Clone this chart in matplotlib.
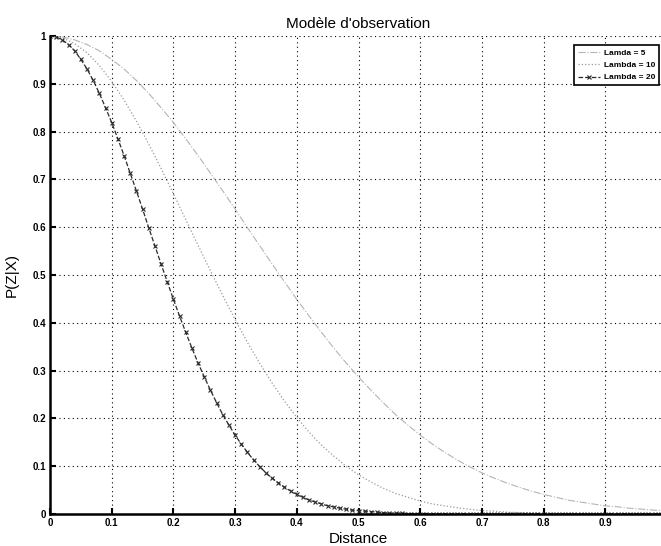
import numpy as np
import matplotlib
matplotlib.use('Agg')
import matplotlib.pyplot as plt

plt.rcParams['font.family'] = ['Liberation Sans', 'DejaVu Sans']

# distances (step 0.01 for lambda=20, step 0.02 for the other two)
dist_fine = [round(0.01 * i, 2) for i in range(101)]
dist_coarse = [round(0.02 * i, 2) for i in range(51)]

p_lambda5 = [1.000, 0.998, 0.992, 0.982, 0.969, 0.951, 0.931, 0.907, 0.880, 0.850,
             0.819, 0.785, 0.750, 0.713, 0.676, 0.638, 0.599, 0.561, 0.523, 0.486,
             0.449, 0.414, 0.380, 0.347, 0.316, 0.287, 0.259, 0.233, 0.208, 0.186,
             0.165, 0.146, 0.129, 0.113, 0.099, 0.086, 0.075, 0.065, 0.056, 0.048,
             0.041, 0.035, 0.029, 0.025, 0.021, 0.017, 0.015, 0.012, 0.010, 0.008,
             0.007]

p_lambda10 = [1.000, 0.996, 0.984, 0.965, 0.938, 0.905, 0.866, 0.822, 0.774, 0.723,
              0.670, 0.616, 0.562, 0.509, 0.457, 0.407, 0.359, 0.315, 0.274, 0.236,
              0.202, 0.171, 0.144, 0.121, 0.100, 0.082, 0.067, 0.054, 0.043, 0.035,
              0.027, 0.021, 0.017, 0.013, 0.010, 0.007, 0.006, 0.004, 0.003, 0.002,
              0.002, 0.001, 0.001, 0.001, 0.000, 0.000, 0.000, 0.000, 0.000, 0.000,
              0.000]

p_lambda20 = [1.000, 0.998, 0.992, 0.982, 0.969, 0.951, 0.931, 0.907, 0.880, 0.850,
              0.819, 0.785, 0.750, 0.713, 0.676, 0.638, 0.599, 0.561, 0.523, 0.486,
              0.449, 0.414, 0.380, 0.347, 0.316, 0.287, 0.259, 0.233, 0.208, 0.186,
              0.165, 0.146, 0.129, 0.113, 0.099, 0.086, 0.075, 0.065, 0.056, 0.048,
              0.041, 0.035, 0.029, 0.025, 0.021, 0.017, 0.015, 0.012, 0.010, 0.008,
              0.007, 0.006, 0.005, 0.004, 0.003, 0.002, 0.002, 0.002, 0.001, 0.001,
              0.001, 0.001, 0.000, 0.000, 0.000, 0.000, 0.000, 0.000, 0.000, 0.000,
              0.000, 0.000, 0.000, 0.000, 0.000, 0.000, 0.000, 0.000, 0.000, 0.000,
              0.000, 0.000, 0.000, 0.000, 0.000, 0.000, 0.000, 0.000, 0.000, 0.000,
              0.000, 0.000, 0.000, 0.000, 0.000, 0.000, 0.000, 0.000, 0.000, 0.000,
              0.000]

labels = ["Lamda = 5", "Lambda = 10", "Lambda = 20"]
xticks = [0, 0.1, 0.2, 0.3, 0.4, 0.5, 0.6, 0.7, 0.8, 0.9]
xtick_labels = ["0", "0.1", "0.2", "0.3", "0.4", "0.5", "0.6", "0.7", "0.8", "0.9"]
yticks = [0, 0.1, 0.2, 0.3, 0.4, 0.5, 0.6, 0.7, 0.8, 0.9, 1]
ytick_labels = ["0", "0.1", "0.2", "0.3", "0.4", "0.5", "0.6", "0.7", "0.8", "0.9", "1"]

W, H = 661, 546
fig = plt.figure(figsize=(W / 100, H / 100), dpi=100)
ax = fig.add_axes([50 / W, 1 - 514 / H, 617 / W, 478 / H])

ax.plot(dist_coarse, p_lambda5, linestyle='-.', color='#b4b4b4', linewidth=0.8, label=labels[0])
ax.plot(dist_coarse, p_lambda10, linestyle=':', color='#9a9a9a', linewidth=0.9, label=labels[1])
ax.plot(dist_fine, p_lambda20, linestyle='--', color='#2a2a2a', linewidth=0.9,
        marker='x', markersize=3.5, markeredgewidth=0.8, label=labels[2])

ax.set_xlim(0, 1)
ax.set_ylim(0, 1)
ax.set_xticks(xticks, xtick_labels)
ax.set_yticks(yticks, ytick_labels)
ax.tick_params(direction='in', length=4, width=1.5, labelsize=7, pad=3)
for lab in ax.get_xticklabels() + ax.get_yticklabels():
    lab.set_fontweight('bold')

ax.grid(True, color='black', linestyle=(0, (1, 3)), linewidth=0.8)
ax.spines['top'].set_visible(False)
ax.spines['right'].set_visible(False)
ax.spines['left'].set_linewidth(1.8)
ax.spines['bottom'].set_linewidth(1.8)

ax.set_title("Modèle d'observation", fontsize=11, pad=6)
ax.set_xlabel("Distance", fontsize=11, labelpad=3)
ax.set_ylabel("P(Z|X)", fontsize=11, labelpad=10)

leg = fig.legend(loc='upper right', bbox_to_anchor=(659 / W, 1 - 45 / H), fontsize=6,
                 frameon=True, fancybox=False, edgecolor='black', framealpha=1,
                 handlelength=2.6, handletextpad=0.5, borderpad=0.45, labelspacing=0.55,
                 borderaxespad=0)
leg.get_frame().set_linewidth(1.2)
for t in leg.get_texts():
    t.set_fontweight('bold')

plt.savefig("out.png", dpi=100)
